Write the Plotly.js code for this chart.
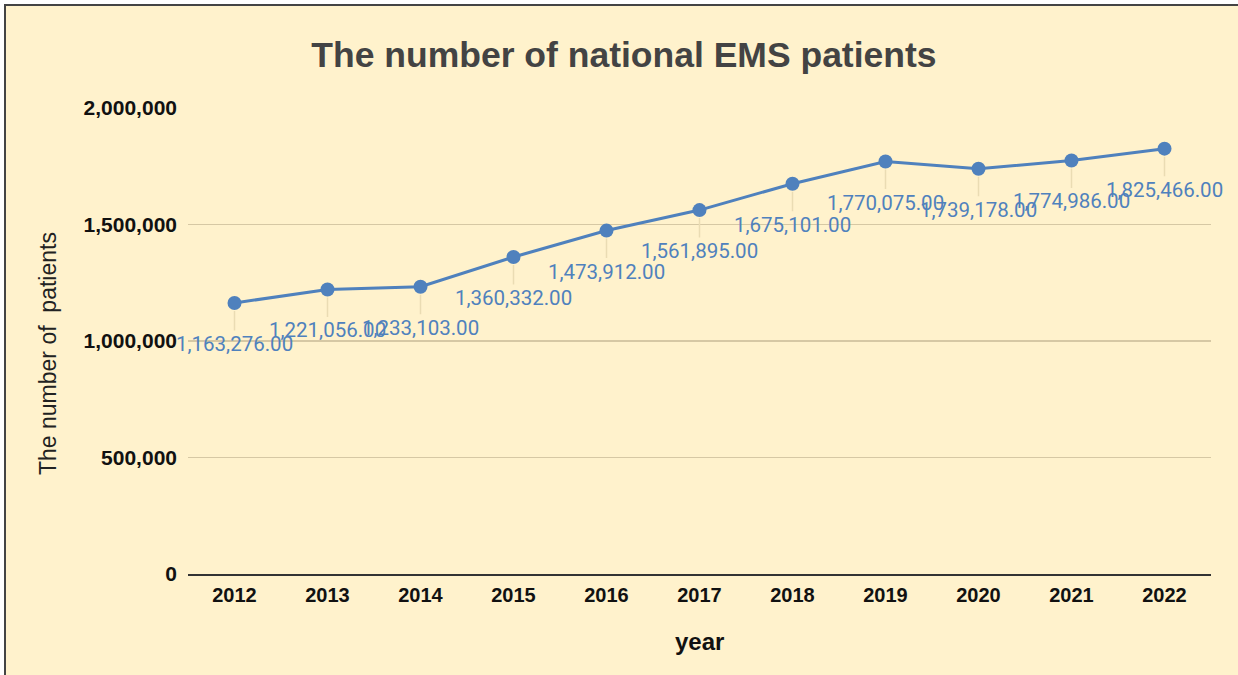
<!DOCTYPE html>
<html>
<head>
<meta charset="utf-8">
<script src="https://cdn.plot.ly/plotly-3.0.1.min.js"></script>
<style>
  html, body { margin: 0; padding: 0; background: #ffffff; overflow: hidden; }
  #frame {
    position: absolute; left: 4px; top: 4px; width: 1260px; height: 700px;
    background: #fff2cc; border-top: 2px solid #444; border-left: 2px solid #444;
  }
  #chart { position: absolute; left: 0; top: 0; width: 1238px; height: 675px; }
</style>
</head>
<body>
<div id="frame"></div>
<div id="chart"></div>
<script>
// years and patient counts
const years = ['2012', '2013', '2014', '2015', '2016', '2017', '2018', '2019', '2020', '2021', '2022'];
const patients = [1163276, 1221056, 1233103, 1360332, 1473912, 1561895, 1675101, 1770075, 1739178, 1774986, 1825466];
const yTicks = [0, 500000, 1000000, 1500000, 2000000];

const blue = '#4f81bd';
const fmt = v => String(v).replace(/\B(?=(\d{3})+(?!\d))/g, ',') + '.00';

var trace = {
  x: years,
  y: patients,
  type: 'scatter',
  mode: 'lines+markers',
  line: { color: blue, width: 3 },
  marker: { color: blue, size: 14 },
  hoverinfo: 'skip'
};

// data labels with leader lines (they overlap in the original too)
var labels = years.map((yr, i) => ({
  x: i, y: patients[i], xref: 'x', yref: 'y',
  text: fmt(patients[i]),
  showarrow: true, arrowhead: 0, arrowwidth: 1.5, arrowcolor: '#eadcb3',
  ax: 0, ay: 41, standoff: 8,
  font: { family: 'Roboto, sans-serif', size: 20.5, color: blue }
}));

var layout = {
  width: 1238,
  height: 675,
  paper_bgcolor: 'rgba(0,0,0,0)',
  plot_bgcolor: 'rgba(0,0,0,0)',
  margin: { l: 188, r: 27, t: 108, b: 101 },
  showlegend: false,
  title: {
    text: '<b>The number of national EMS patients</b>',
    font: { family: 'Liberation Sans, Arial, sans-serif', size: 35.5, color: '#434343' },
    x: 0.504, xref: 'container', y: 1 - 55 / 675, yref: 'container', yanchor: 'middle'
  },
  xaxis: {
    type: 'category',
    range: [-0.5, 10.5],
    showgrid: false,
    showline: true, linecolor: '#333333', linewidth: 2,
    ticks: '',
    ticklabelstandoff: 2,
    tickfont: { family: 'Liberation Sans, Arial, sans-serif', size: 20, color: '#111111', weight: 'bold' }
  },
  yaxis: {
    range: [0, 2000000],
    tickvals: yTicks,
    tickformat: ',d',
    showgrid: true, gridcolor: '#d6c8a4', gridwidth: 1.5,
    zeroline: false,
    showline: false,
    ticks: '',
    ticklabelstandoff: 10,
    tickfont: { family: 'Liberation Sans, Arial, sans-serif', size: 21, color: '#111111', weight: 'bold' }
  },
  annotations: labels.concat([
    {
      text: 'The number of \u00a0patients', textangle: -90,
      xref: 'paper', yref: 'paper', x: (48 - 188) / 1023, y: (574 - 354) / 466,
      xanchor: 'center', yanchor: 'middle', showarrow: false,
      font: { family: 'Liberation Sans, Arial, sans-serif', size: 23, color: '#222222' }
    },
    {
      text: '<b>year</b>',
      xref: 'paper', yref: 'paper', x: (699 - 188) / 1023, y: (574 - 641) / 466,
      xanchor: 'center', yanchor: 'middle', showarrow: false,
      font: { family: 'Liberation Sans, Arial, sans-serif', size: 24, color: '#111111' }
    }
  ])
};

Plotly.newPlot('chart', [trace], layout, { displayModeBar: false, staticPlot: true });
</script>
</body>
</html>
